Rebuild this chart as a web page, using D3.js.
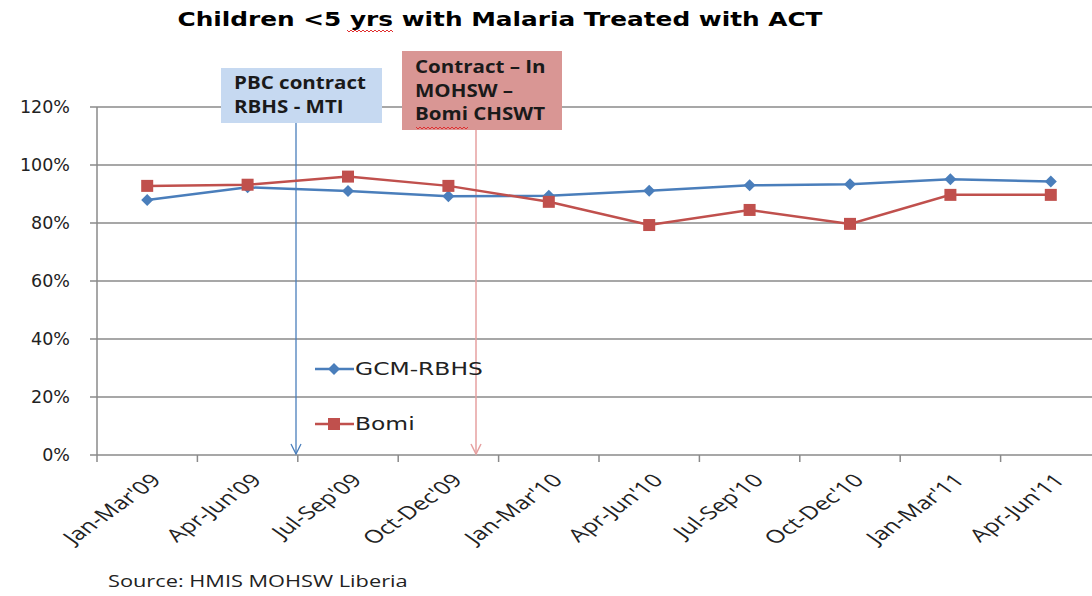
<!DOCTYPE html>
<html>
<head>
<meta charset="utf-8">
<title>Children &lt;5 yrs with Malaria Treated with ACT</title>
<style>
  body { margin: 0; background: #fff; }
  svg { display: block; }
</style>
</head>
<body>
<script src="https://d3js.org/d3.v7.min.js"></script>
<script>
// data
var quarters = ["Jan-Mar'09", "Apr-Jun'09", "Jul-Sep'09", "Oct-Dec'09", "Jan-Mar'10",
                "Apr-Jun'10", "Jul-Sep'10", "Oct-Dec'10", "Jan-Mar'11", "Apr-Jun'11"];
var gcmRbhs = [0.879, 0.923, 0.910, 0.892, 0.894, 0.911, 0.930, 0.934, 0.951, 0.943];
var bomi    = [0.928, 0.932, 0.960, 0.928, 0.873, 0.793, 0.845, 0.797, 0.897, 0.897];
var yTicks  = [0, 0.2, 0.4, 0.6, 0.8, 1.0, 1.2];

var W = 1092, H = 596;
var sans = "'DejaVu Sans', Verdana, sans-serif";
var narrow = "'Open Sans', 'Liberation Sans', sans-serif";

var svg = d3.select("body").append("svg")
    .attr("width", W)
    .attr("height", H);

// the original is wider than its fonts, so stretch text a bit
function stretch(sel, k) {
  sel.each(function() {
    var len = this.getComputedTextLength();
    d3.select(this)
      .attr("textLength", len * k)
      .attr("lengthAdjust", "spacingAndGlyphs");
  });
}

var x = d3.scaleBand()
    .domain(quarters)
    .range([97, 1101]);

var y = d3.scaleLinear()
    .domain([0, 1.2])
    .range([455, 107]);

// gridlines
svg.append("g")
  .selectAll("line")
  .data(yTicks)
  .enter().append("line")
    .attr("x1", 90)
    .attr("x2", W)
    .attr("y1", d => y(d))
    .attr("y2", d => y(d))
    .style("stroke", "#8a8a8a")
    .style("stroke-width", 1.5);

// y axis line
svg.append("line")
    .attr("x1", 97).attr("x2", 97)
    .attr("y1", y(1.2)).attr("y2", y(0))
    .style("stroke", "#8a8a8a")
    .style("stroke-width", 1.5);

// y labels
svg.append("g")
  .selectAll("text")
  .data(yTicks)
  .enter().append("text")
    .attr("x", 70)
    .attr("y", d => y(d))
    .attr("dy", "0.35em")
    .attr("text-anchor", "end")
    .style("font-family", sans)
    .style("font-size", "17.5px")
    .style("fill", "#222")
    .text(d => Math.round(d * 100) + "%");

// x ticks (category boundaries)
var bounds = quarters.map(d => x(d)).concat([x.range()[1]]);
svg.append("g")
  .selectAll("line")
  .data(bounds)
  .enter().append("line")
    .attr("x1", d => d).attr("x2", d => d)
    .attr("y1", 455).attr("y2", 462)
    .style("stroke", "#8a8a8a")
    .style("stroke-width", 1.5);

// x labels (45 degrees, then widened like the rest of the picture)
svg.append("g")
  .selectAll("text")
  .data(quarters)
  .enter().append("text")
    .attr("transform", d => "translate(" + (x(d) + x.bandwidth() / 2 + 9) + ",477) scale(1.4,1) rotate(-45)")
    .attr("text-anchor", "end")
    .attr("dy", "0.35em")
    .style("font-family", narrow)
    .style("font-size", "18px")
    .style("fill", "#222")
    .text(d => d);

// annotation arrows
svg.append("line")
    .attr("x1", 296).attr("x2", 296)
    .attr("y1", 123).attr("y2", 454)
    .style("stroke", "#4a7ebb")
    .style("stroke-width", 1.3);
svg.append("path")
    .attr("d", "M291,444 L296,454 L301,444")
    .style("fill", "none").style("stroke", "#4a7ebb").style("stroke-width", 1.3);

svg.append("line")
    .attr("x1", 476).attr("x2", 476)
    .attr("y1", 130).attr("y2", 454)
    .style("stroke", "#e6a1a1")
    .style("stroke-width", 1.5);
svg.append("path")
    .attr("d", "M471,444 L476,454 L481,444")
    .style("fill", "none").style("stroke", "#e6a1a1").style("stroke-width", 1.5);

// series lines
var series = [
  {name: "GCM-RBHS", values: gcmRbhs, color: "#4a7ebb", shape: "diamond"},
  {name: "Bomi", values: bomi, color: "#c0504d", shape: "square"}
];

var line = d3.line()
    .x((d, i) => x(quarters[i]) + x.bandwidth() / 2)
    .y(d => y(d));

function marker(g, s, cx, cy) {
  if (s.shape === "diamond") {
    g.append("path")
      .attr("d", "M" + cx + "," + (cy - 6) + " L" + (cx + 6) + "," + cy + " L" + cx + "," + (cy + 6) + " L" + (cx - 6) + "," + cy + "Z")
      .style("fill", s.color);
  } else {
    g.append("rect")
      .attr("x", cx - 6).attr("y", cy - 6)
      .attr("width", 12).attr("height", 12)
      .style("fill", s.color);
  }
}

series.forEach(function(s) {
  var g = svg.append("g");
  g.append("path")
    .datum(s.values)
    .attr("d", line)
    .style("fill", "none")
    .style("stroke", s.color)
    .style("stroke-width", 2.5);
  s.values.forEach(function(v, i) {
    marker(g, s, x(quarters[i]) + x.bandwidth() / 2, y(v));
  });
});

// legend
var legend = svg.selectAll(".legend")
  .data(series)
  .enter().append("g")
  .attr("class", "legend")
  .attr("transform", (d, i) => "translate(315," + (369 + 55 * i) + ")");

legend.append("line")
  .attr("x1", 0).attr("x2", 39)
  .style("stroke", d => d.color)
  .style("stroke-width", 2.5);
legend.each(function(d) { marker(d3.select(this), d, 19, 0); });
legend.append("text")
  .attr("x", 40)
  .attr("dy", "0.36em")
  .style("font-family", sans)
  .style("font-size", "18px")
  .style("fill", "#222")
  .text(d => d.name)
  .call(stretch, 1.3);

// annotation boxes
var boxes = [
  {x: 221, y: 68, w: 161, h: 55, fill: "#c6d9f1", lines: ["PBC contract", "RBHS - MTI"], ty: 83, step: 24},
  {x: 402, y: 51, w: 160, h: 79, fill: "#d99694", lines: ["Contract \u2013 In", "MOHSW \u2013", "Bomi CHSWT"], ty: 67, step: 23.5}
];
boxes.forEach(function(b) {
  svg.append("rect")
    .attr("x", b.x).attr("y", b.y)
    .attr("width", b.w).attr("height", b.h)
    .style("fill", b.fill);
  b.lines.forEach(function(t, i) {
    svg.append("text")
      .attr("x", b.x + 13)
      .attr("y", b.ty + i * b.step)
      .attr("dy", "0.35em")
      .style("font-family", narrow)
      .style("font-size", "18px")
      .style("font-weight", "bold")
      .style("fill", "#1a1a1a")
      .text(t)
      .call(stretch, 1.14);
  });
});

// spell-check squiggles
function squiggle(x0, x1, yy) {
  var d = "M" + x0 + "," + yy;
  for (var xx = x0, k = 0; xx < x1; xx += 2, k++) {
    d += " L" + (xx + 2) + "," + (yy + (k % 2 ? 0 : 2));
  }
  svg.append("path").attr("d", d)
    .style("fill", "none").style("stroke", "#e03030").style("stroke-width", 1);
}

// title
svg.append("text")
  .attr("x", 500)
  .attr("y", 19)
  .attr("dy", "0.35em")
  .attr("text-anchor", "middle")
  .attr("textLength", 645)
  .attr("lengthAdjust", "spacingAndGlyphs")
  .style("font-family", sans)
  .style("font-size", "20px")
  .style("font-weight", "bold")
  .style("fill", "#000")
  .text("Children <5 yrs with Malaria Treated with ACT");
squiggle(347, 392, 30);
squiggle(416, 467, 127);

// source
svg.append("text")
  .attr("x", 108)
  .attr("y", 581)
  .attr("dy", "0.35em")
  .style("font-family", narrow)
  .style("font-size", "17px")
  .style("fill", "#222")
  .text("Source: HMIS MOHSW Liberia")
  .call(stretch, 1.28);
</script>
</body>
</html>
